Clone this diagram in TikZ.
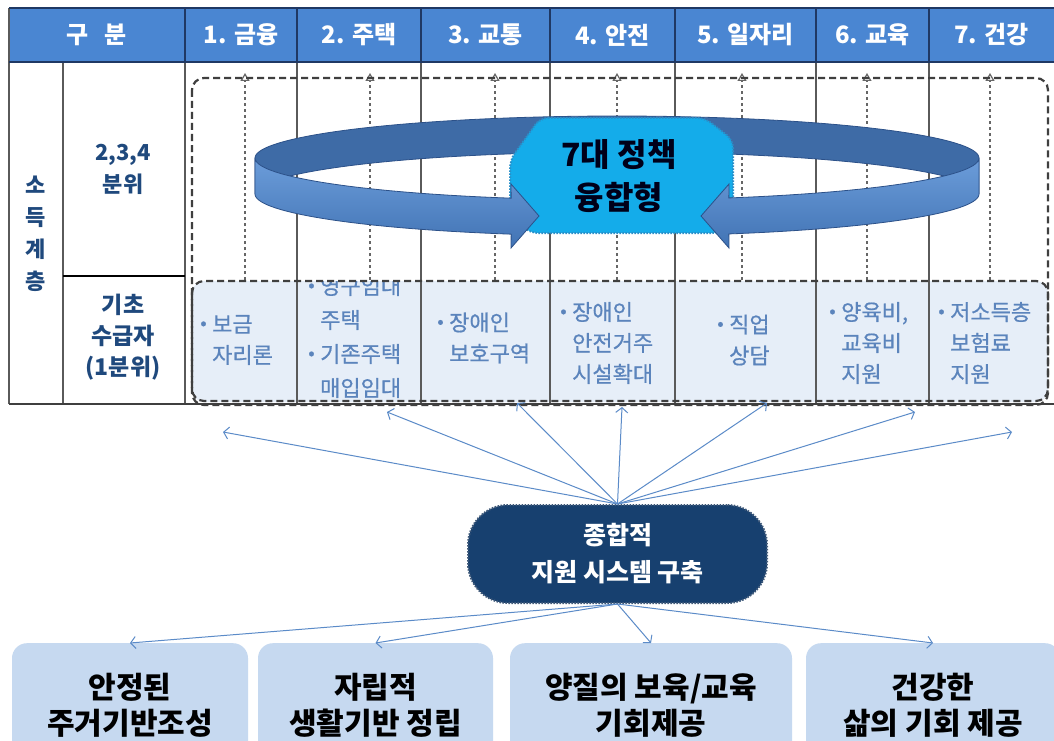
\documentclass[tikz,border=0pt]{standalone}
\usepackage{fontspec}
\setmainfont{Noto Sans CJK KR}
\newfontfamily\cellfont{Noto Sans CJK KR}[FakeBold=0.7]
\usetikzlibrary{arrows.meta}
\definecolor{hdrfill}{HTML}{4A86D2}
\definecolor{navyline}{HTML}{1F3864}
\definecolor{navytext}{HTML}{1F497D}
\definecolor{cellblue}{HTML}{5B84BC}
\definecolor{lowfill}{HTML}{E6EEF8}
\definecolor{dashgray}{HTML}{3F3F3F}
\definecolor{dotgray}{HTML}{666666}
\definecolor{gridgray}{HTML}{5A5A5A}
\definecolor{bandback}{HTML}{3E6BA6}
\definecolor{bandtop}{HTML}{6C9DDA}
\definecolor{bandbot}{HTML}{4173B4}
\definecolor{bandline}{HTML}{2C5189}
\definecolor{polcyan}{HTML}{14ACEA}
\definecolor{poledge}{HTML}{2A8FC8}
\definecolor{hubfill}{HTML}{17406F}
\definecolor{hubedge}{HTML}{3E5878}
\definecolor{fanblue}{HTML}{5B8BC8}
\definecolor{goalfill}{HTML}{C6D9F0}
\newcommand{\bul}{\makebox[0pt][r]{\textbf{·}\hspace{2pt}}}
\begin{document}
\begin{tikzpicture}[x=1pt,y=-1pt,
  hdrtext/.style={text=white,font=\fontsize{24}{28}\selectfont\bfseries},
  sidetext/.style={text=navytext,align=center},
  celltext/.style={text=cellblue,align=left,anchor=west,font=\cellfont\fontsize{22}{31}\selectfont,inner sep=0pt},
  gridline/.style={draw=gridgray,line width=1.1pt},
  dashbox/.style={draw=dashgray,line width=2.2pt,dash pattern=on 7pt off 4pt,rounded corners=12pt},
  dotarrow/.style={draw=dotgray,line width=2.6pt,dash pattern=on 3pt off 3pt,-{Triangle[open,length=8pt,width=9pt,line width=1.2pt]}},
  fan/.style={draw=fanblue,line width=1pt,-{Straight Barb[length=5pt,width=12pt]}},
  goal/.style={fill=goalfill,rounded corners=15pt,minimum height=124pt,anchor=north,align=center,
    font=\fontsize{30}{36}\selectfont\bfseries,text=black,inner sep=0pt},
  hub/.style={fill=hubfill,draw=hubedge,line width=2pt,dash pattern=on 1.5pt off 1.5pt,rounded corners=40pt,
    minimum width=299pt,minimum height=98pt,text=white,align=center,font=\fontsize{25}{37}\selectfont\bfseries}
]
\useasboundingbox (0,0) rectangle (1054,741);
\fill[white] (0,0) rectangle (1054,741);

% header row
\fill[hdrfill] (9,8) rectangle (1054,62);
% lower row fill
\fill[lowfill] (192,281) [rounded corners=12pt] rectangle (1048,402);

% grid
\foreach \x in {185,297,421,550,675,816,929} \draw[gridline] (\x,62) -- (\x,404);
\foreach \x in {185,297,421,550,675,816,929} \draw[draw=navyline,line width=1.1pt] (\x,8) -- (\x,62);
\draw[gridline] (63,62) -- (63,404);
\draw[gridline] (9,8) -- (9,404);
\draw[draw=black,line width=1.4pt] (63,276) -- (185,276);
\draw[draw=dashgray,line width=1.2pt] (9,404) -- (1054,404);
\draw[draw=navyline,line width=1.6pt] (9,8) -- (1054,8);
\draw[draw=navyline,line width=1.6pt] (9,62) -- (1054,62);

% header texts
\node[hdrtext] (h0) at (97,35) {구\hspace{16pt}분};
\node[hdrtext] (h1) at (241,35) {1. 금융};
\node[hdrtext] (h2) at (359,35) {2. 주택};
\node[hdrtext] (h3) at (485.5,35) {3. 교통};
\node[hdrtext] (h4) at (612.5,35) {4. 안전};
\node[hdrtext] (h5) at (745.5,35) {5. 일자리};
\node[hdrtext] (h6) at (872.5,35) {6. 교육};
\node[hdrtext] (h7) at (991.5,35) {7. 건강};

% side texts
\node[sidetext,font=\fontsize{22}{32}\selectfont\bfseries] (sd) at (36,234) {소\\득\\계\\층};
\node[sidetext,font=\fontsize{22}{32}\selectfont\bfseries] (q234) at (123,169) {2,3,4\\분위};
\node[sidetext,font=\fontsize{23}{31}\selectfont\bfseries] (q1) at (123,337) {기초\\수급자\\(1분위)};

% dotted vertical arrows
\foreach \i/\x in {1/245,2/370,3/495,4/617,5/742,6/867,7/990}{
  \coordinate (db\i) at (\x,280);
  \coordinate (dt\i) at (\x,73);
  \draw[dotarrow] (db\i) -- (dt\i);
}

% ring: back band
\draw[fill=bandback,draw=bandline,line width=0.8pt]
  plot[domain=180:0,samples=80,variable=\t] ({617+362*cos(\t)},{158-42*sin(\t)})
  -- plot[domain=0:180,samples=80,variable=\t] ({617+362*cos(\t)},{194-42*sin(\t)}) -- cycle;

% central policy box
\draw[fill=polcyan,draw=poledge,line width=2pt,dash pattern=on 1.5pt off 1.5pt,rounded corners=8pt]
  (540,118) -- (705,118) -- (733,140) -- (733,222) -- (720,233) -- (530,233) -- (510,215) -- (510,160) -- cycle;
\node[font=\fontsize{32}{43}\selectfont\bfseries,text=black!90!blue,align=center] (pol) at (619,176) {7대 정책\\융합형};

% ring: front arrows
\draw[top color=bandtop,bottom color=bandbot,draw=bandline,line width=0.8pt]
  plot[domain=180:253,samples=50,variable=\t] ({617+362*cos(\t)},{158-42*sin(\t)})
  -- (511,184) -- (539,216) -- (511,248)
  -- plot[domain=253:180,samples=50,variable=\t] ({617+362*cos(\t)},{194-42*sin(\t)}) -- cycle;
\draw[top color=bandtop,bottom color=bandbot,draw=bandline,line width=0.8pt]
  plot[domain=360:288,samples=50,variable=\t] ({617+362*cos(\t)},{158-42*sin(\t)})
  -- (729,184) -- (701,216) -- (729,248)
  -- plot[domain=288:360,samples=50,variable=\t] ({617+362*cos(\t)},{194-42*sin(\t)}) -- cycle;

% cell texts (basic recipients row)
\node[celltext] (c1) at (212,340) {\bul 보금\\자리론};
\begin{scope}
\clip (297,281) rectangle (421,402);
\node[celltext,font=\cellfont\fontsize{22}{34}\selectfont] (c2) at (320,337) {\bul 영구임대\\주택\\\bul 기존주택\\매입임대};
\end{scope}
\node[celltext] (c3) at (449,338) {\bul 장애인\\보호구역};
\node[celltext] (c4) at (572,343) {\bul 장애인\\안전거주\\시설확대};
\node[celltext] (c5) at (729,340) {\bul 직업\\상담};
\node[celltext] (c6) at (841,343) {\bul 양육비,\\교육비\\지원};
\node[celltext] (c7) at (950,343) {\bul 저소득층\\보험료\\지원};

% dashed boxes
\draw[dashbox] (192,78) rectangle (1048,405);
\draw[dashbox] (192,281) rectangle (1048,401);

% hub
\node[hub] (hub) at (617.5,554) {종합적\\지원 시스템 구축};

% goal boxes
\node[goal,minimum width=236pt] (g1) at (130,643) {안정된\\주거기반조성};
\node[goal,minimum width=235pt] (g2) at (375.5,643) {자립적\\생활기반 정립};
\node[goal,minimum width=282pt] (g3) at (651,643) {양질의 보육/교육\\기회제공};
\node[goal,minimum width=254pt] (g4) at (933,643) {건강한\\삶의 기회 제공};

% fan connectors
\foreach \i/\x/\y in {1/223/432,2/387/412,3/517/403,4/622/407,5/767/403,6/915/412,7/1012/432}{
  \coordinate (ft\i) at (\x,\y);
  \draw[fan] (hub.north) -- (ft\i);
}
\foreach \i in {1,2,3,4}{
  \draw[fan] (hub.south) -- (g\i.north);
}
\end{tikzpicture}
\end{document}
